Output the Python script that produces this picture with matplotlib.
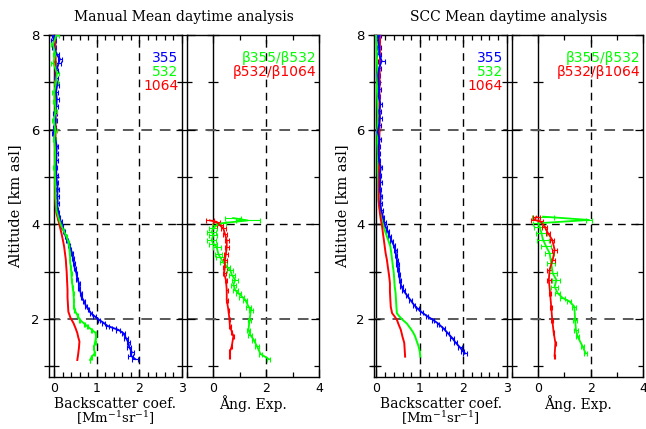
import matplotlib
matplotlib.use("Agg")
import matplotlib.pyplot as plt
from matplotlib.ticker import MultipleLocator, NullFormatter

# ---------------- Manual analysis: backscatter coefficient [Mm-1 sr-1] ----------------
alt_b355_man = [1.15, 1.22, 1.30, 1.40, 1.50, 1.60, 1.70, 1.77, 1.80, 1.85, 1.92, 1.98, 2.05, 2.12,
                2.20, 2.28, 2.37, 2.46, 2.55, 2.65, 2.75, 2.85, 2.96, 3.07, 3.18, 3.28, 3.39, 3.48,
                3.56, 3.66, 3.76, 3.86, 3.96, 4.06, 4.15, 4.25, 4.32, 4.45, 4.60, 4.75, 4.90, 5.05,
                5.20, 5.35, 5.50, 5.65, 5.80, 5.92, 6.05, 6.20, 6.35, 6.50, 6.65, 6.80, 6.95, 7.10,
                7.25, 7.40, 7.50, 7.60, 7.75, 7.90, 8.00]
b355_man = [1.90, 1.80, 1.82, 1.76, 1.74, 1.68, 1.62, 1.50, 1.40, 1.25, 1.15, 1.05, 0.95, 0.86,
            0.80, 0.74, 0.70, 0.64, 0.62, 0.58, 0.58, 0.54, 0.52, 0.48, 0.46, 0.44, 0.42, 0.38,
            0.35, 0.30, 0.26, 0.22, 0.18, 0.15, 0.12, 0.09, 0.07, 0.08, 0.07, 0.08, 0.06, 0.05,
            0.04, 0.05, 0.05, 0.06, 0.02, -0.02, 0.01, 0.03, 0.02, 0.05, 0.06, 0.04, 0.07, 0.04,
            0.05, 0.10, 0.13, 0.05, -0.01, -0.02, 0.00]
e355_man = [0.07, 0.06, 0.05, 0.05, 0.04, 0.04, 0.04, 0.05, 0.04, 0.04, 0.03, 0.03, 0.03, 0.03,
            0.02, 0.02, 0.02, 0.02, 0.02, 0.02, 0.02, 0.02, 0.02, 0.02, 0.02, 0.02, 0.02, 0.02,
            0.02, 0.02, 0.02, 0.02, 0.02, 0.02, 0.02, 0.02, 0.02, 0.03, 0.03, 0.03, 0.03, 0.03,
            0.03, 0.03, 0.03, 0.03, 0.03, 0.03, 0.03, 0.04, 0.04, 0.04, 0.04, 0.04, 0.04, 0.04,
            0.04, 0.05, 0.05, 0.05, 0.05, 0.05, 0.05]

alt_b532_man = [1.13, 1.20, 1.27, 1.40, 1.52, 1.63, 1.70, 1.77, 1.84, 1.90, 1.98, 2.08, 2.18, 2.28,
                2.40, 2.54, 2.68, 2.82, 2.96, 3.10, 3.20, 3.30, 3.42, 3.52, 3.62, 3.75, 3.88, 4.00,
                4.16, 4.30, 4.45, 4.60, 4.90, 5.20, 5.50, 5.80, 6.00, 6.20, 6.40, 6.60, 6.80, 7.00,
                7.20, 7.40, 7.60, 7.80, 8.00]
b532_man = [0.84, 0.88, 0.95, 0.93, 0.96, 0.98, 0.97, 0.88, 0.78, 0.70, 0.60, 0.54, 0.48, 0.46,
            0.46, 0.45, 0.43, 0.41, 0.40, 0.39, 0.37, 0.37, 0.36, 0.35, 0.33, 0.28, 0.21, 0.15,
            0.09, 0.05, 0.04, 0.03, 0.02, 0.01, 0.02, 0.00, 0.02, -0.01, 0.03, 0.01, 0.00, 0.04,
            0.06, -0.02, 0.02, -0.03, 0.05]
e532_man = [0.01, 0.01, 0.01, 0.01, 0.01, 0.01, 0.01, 0.01, 0.01, 0.01, 0.01, 0.01, 0.01, 0.01,
            0.01, 0.01, 0.01, 0.01, 0.01, 0.01, 0.01, 0.01, 0.01, 0.01, 0.01, 0.01, 0.01, 0.01,
            0.02, 0.02, 0.02, 0.03, 0.03, 0.03, 0.03, 0.04, 0.04, 0.04, 0.04, 0.04, 0.05, 0.05,
            0.05, 0.05, 0.05, 0.05, 0.05]

alt_b1064_man = [1.13, 1.25, 1.40, 1.52, 1.62, 1.70, 1.80, 1.91, 2.02, 2.15, 2.30, 2.45, 2.61, 2.80,
                 3.00, 3.11, 3.25, 3.39, 3.53, 3.67, 3.80, 3.95, 4.10, 4.23, 4.40, 4.51, 4.80, 5.20,
                 5.60, 6.00, 6.50, 7.00, 7.50, 8.00]
b1064_man = [0.54, 0.56, 0.58, 0.59, 0.56, 0.54, 0.50, 0.45, 0.38, 0.33, 0.32, 0.31, 0.31, 0.30,
             0.29, 0.28, 0.27, 0.25, 0.23, 0.20, 0.17, 0.13, 0.09, 0.05, 0.03, 0.02, 0.02, 0.02,
             0.02, 0.03, 0.03, 0.03, 0.03, 0.02]

# ---------------- Manual analysis: backscatter-related Angstrom exponents ----------------
alt_ae1_man = [1.15, 1.26, 1.42, 1.56, 1.66, 1.77, 1.98, 2.19, 2.26, 2.40, 2.47, 2.54, 2.61, 2.72,
               2.82, 2.93, 3.03, 3.10, 3.20, 3.31, 3.38, 3.52, 3.59, 3.66, 3.77, 3.84, 3.91, 3.98,
               4.02, 4.08, 4.13]
ae1_man = [2.09, 1.78, 1.65, 1.52, 1.40, 1.33, 1.37, 1.42, 1.33, 1.21, 1.08, 0.95, 0.83, 0.76,
           0.83, 0.70, 0.64, 0.51, 0.38, 0.25, 0.19, 0.13, 0.00, -0.06, 0.00, -0.06, 0.00, 0.13,
           0.30, 1.30, 0.75]
eae1_man = [0.05, 0.06, 0.06, 0.07, 0.07, 0.07, 0.07, 0.08, 0.08, 0.08, 0.09, 0.09, 0.10, 0.10,
            0.12, 0.12, 0.12, 0.12, 0.13, 0.14, 0.14, 0.15, 0.15, 0.16, 0.16, 0.16, 0.16, 0.16,
            0.20, 0.45, 0.30]

alt_ae2_man = [1.21, 1.31, 1.42, 1.63, 1.73, 1.84, 2.00, 2.19, 2.40, 2.61, 2.82, 2.96, 3.10, 3.24,
               3.38, 3.52, 3.66, 3.80, 3.91, 3.98, 4.05, 4.08]
ae2_man = [0.63, 0.63, 0.70, 0.76, 0.70, 0.63, 0.61, 0.57, 0.51, 0.51, 0.48, 0.41, 0.44, 0.44,
           0.48, 0.51, 0.51, 0.44, 0.38, 0.25, 0.13, -0.13]
eae2_man = [0.02, 0.02, 0.02, 0.02, 0.02, 0.03, 0.03, 0.03, 0.03, 0.04, 0.05, 0.06, 0.07, 0.07,
            0.08, 0.08, 0.08, 0.08, 0.09, 0.10, 0.12, 0.15]

# ---------------- SCC analysis: backscatter coefficient [Mm-1 sr-1] ----------------
alt_b355_scc = [1.27, 1.33, 1.40, 1.50, 1.60, 1.70, 1.80, 1.90, 1.98, 2.06, 2.14, 2.22, 2.30, 2.40,
                2.50, 2.60, 2.70, 2.82, 2.95, 3.05, 3.15, 3.25, 3.35, 3.45, 3.55, 3.65, 3.75, 3.85,
                3.95, 4.05, 4.16, 4.30, 4.45, 4.60, 4.75, 4.90, 5.05, 5.20, 5.35, 5.50, 5.65, 5.80,
                5.95, 6.10, 6.25, 6.40, 6.55, 6.70, 6.85, 7.00, 7.15, 7.30, 7.45, 7.60, 7.75, 7.90,
                8.00]
b355_scc = [2.04, 1.98, 1.92, 1.82, 1.74, 1.64, 1.54, 1.42, 1.30, 1.16, 1.04, 0.94, 0.86, 0.78,
            0.70, 0.62, 0.57, 0.54, 0.52, 0.50, 0.49, 0.47, 0.45, 0.44, 0.40, 0.35, 0.30, 0.26,
            0.21, 0.18, 0.15, 0.11, 0.09, 0.10, 0.08, 0.09, 0.08, 0.10, 0.06, 0.05, 0.05, 0.07,
            0.03, 0.06, 0.08, 0.07, 0.09, 0.05, 0.06, 0.05, 0.04, 0.06, 0.12, 0.06, 0.06, 0.04,
            0.06]
e355_scc = [0.04, 0.04, 0.04, 0.04, 0.04, 0.04, 0.04, 0.03, 0.03, 0.03, 0.03, 0.03, 0.03, 0.03,
            0.03, 0.03, 0.03, 0.03, 0.03, 0.03, 0.03, 0.03, 0.03, 0.03, 0.03, 0.03, 0.03, 0.03,
            0.03, 0.03, 0.03, 0.03, 0.03, 0.03, 0.03, 0.03, 0.03, 0.03, 0.03, 0.03, 0.03, 0.03,
            0.03, 0.04, 0.04, 0.04, 0.04, 0.04, 0.04, 0.04, 0.04, 0.04, 0.08, 0.05, 0.05, 0.05,
            0.05]

alt_b532_scc = [1.20, 1.30, 1.42, 1.52, 1.63, 1.72, 1.80, 1.90, 1.98, 2.06, 2.12, 2.25, 2.40, 2.55,
                2.68, 2.82, 2.96, 3.10, 3.25, 3.40, 3.53, 3.64, 3.74, 3.85, 3.95, 4.08, 4.23, 4.40,
                4.51, 4.80, 5.10, 5.40, 5.70, 6.00, 6.30, 6.60, 6.90, 7.20, 7.50, 7.80, 8.00]
b532_scc = [1.01, 1.00, 0.97, 0.93, 0.89, 0.84, 0.78, 0.70, 0.60, 0.52, 0.47, 0.46, 0.45, 0.44,
            0.42, 0.41, 0.40, 0.38, 0.36, 0.34, 0.32, 0.28, 0.24, 0.20, 0.17, 0.13, 0.09, 0.06,
            0.05, 0.04, 0.03, 0.03, 0.02, 0.02, 0.03, 0.02, 0.01, 0.02, 0.01, 0.00, -0.01]

alt_b1064_scc = [1.20, 1.35, 1.49, 1.62, 1.77, 1.88, 1.98, 2.06, 2.12, 2.25, 2.40, 2.58, 2.75, 2.92,
                 3.11, 3.25, 3.39, 3.53, 3.67, 3.80, 3.95, 4.10, 4.23, 4.40, 4.51, 4.80, 5.20, 5.60,
                 6.00, 6.50, 7.00, 7.50, 8.00]
b1064_scc = [0.66, 0.65, 0.64, 0.60, 0.56, 0.51, 0.47, 0.41, 0.36, 0.33, 0.32, 0.31, 0.31, 0.29,
             0.26, 0.24, 0.21, 0.19, 0.17, 0.15, 0.13, 0.10, 0.08, 0.06, 0.05, 0.05, 0.06, 0.06,
             0.07, 0.07, 0.07, 0.08, 0.08]

# ---------------- SCC analysis: backscatter-related Angstrom exponents ----------------
alt_ae1_scc = [1.27, 1.42, 1.63, 1.77, 1.98, 2.26, 2.37, 2.44, 2.54, 2.68, 2.82, 2.96, 3.18, 3.39,
               3.53, 3.67, 3.81, 3.95, 4.02, 4.09, 4.16]
ae1_scc = [1.81, 1.69, 1.50, 1.44, 1.41, 1.38, 1.19, 0.94, 0.75, 0.63, 0.70, 0.56, 0.50, 0.44,
           0.31, 0.19, 0.13, 0.06, 0.00, 1.94, 0.19]
eae1_scc = [0.05, 0.06, 0.06, 0.07, 0.07, 0.08, 0.08, 0.09, 0.10, 0.12, 0.15, 0.15, 0.16, 0.18,
            0.20, 0.22, 0.22, 0.22, 0.20, 0.10, 0.40]

alt_ae2_scc = [1.22, 1.49, 1.73, 1.98, 2.26, 2.54, 2.82, 3.04, 3.25, 3.46, 3.67, 3.81, 3.95, 4.06,
               4.09, 4.16]
ae2_scc = [0.63, 0.66, 0.59, 0.54, 0.50, 0.46, 0.41, 0.44, 0.56, 0.63, 0.54, 0.38, 0.25, 0.09,
           -0.13, -0.06]
eae2_scc = [0.02, 0.03, 0.03, 0.03, 0.04, 0.05, 0.07, 0.08, 0.08, 0.08, 0.08, 0.08, 0.08, 0.10,
            0.12, 0.12]

# ---------------- labels and styling ----------------
titles = ["Manual Mean daytime analysis", "SCC Mean daytime analysis"]
bsc_labels = ["355", "532", "1064"]
ae_labels = ["β355/β532", "β532/β1064"]
BLUE, GREEN, RED = "#0000ff", "#00ff00", "#ff0000"

plt.rcParams["mathtext.fontset"] = "dejavuserif"
SERIF = "DejaVu Serif"
SANS = "DejaVu Sans"

fig = plt.figure(figsize=(6.46, 4.29), dpi=100)
W, H = 646.0, 429.0


def px_axes(x0, x1, y0=35.0, y1=377.0):
    return fig.add_axes([x0 / W, 1 - y1 / H, (x1 - x0) / W, (y1 - y0) / H])


def style_axes(ax, xlim, xmajor, xminor, vgrid, left_labels):
    ax.set_xlim(*xlim)
    ax.set_ylim(0.77, 8.0)
    ax.xaxis.set_major_locator(MultipleLocator(xmajor))
    ax.xaxis.set_minor_locator(MultipleLocator(xminor))
    ax.yaxis.set_major_locator(MultipleLocator(2))
    ax.yaxis.set_minor_locator(MultipleLocator(1))
    ax.tick_params(axis="both", which="both", direction="in", top=True, right=True,
                   width=0.9, color="black")
    ax.tick_params(which="major", length=6)
    ax.tick_params(which="minor", length=3.5)
    ax.tick_params(axis="x", labelsize=9, pad=3.5)
    for lab in ax.get_xticklabels():
        lab.set_fontfamily(SANS)
    if left_labels:
        ax.tick_params(axis="y", which="both", left=True, direction="inout",
                       labelsize=9.5, pad=3)
        ax.tick_params(axis="y", which="major", length=8)
        ax.tick_params(axis="y", which="minor", length=7)
        for lab in ax.get_yticklabels():
            lab.set_fontfamily(SANS)
    else:
        ax.tick_params(axis="y", which="both", labelleft=False)
    for sp in ax.spines.values():
        sp.set_linewidth(1.0)
    # dashed reference lines
    for xv in vgrid:
        ax.axvline(xv, color="black", lw=1.0, ls=(0, (5.5, 4)), zorder=1)
    for yv, col, lw in [(2, "0.35", 1.4), (4, "black", 1.0), (6, "0.35", 1.4)]:
        ax.axhline(yv, color=col, lw=lw, ls=(0, (5.5, 4)), zorder=1)
    # solid zero line carrying its own altitude ticks
    frac = (0 - xlim[0]) / (xlim[1] - xlim[0])
    sec = ax.secondary_yaxis(frac)
    sec.spines["left"].set_linewidth(1.0)
    sec.yaxis.set_major_locator(MultipleLocator(2))
    sec.yaxis.set_minor_locator(MultipleLocator(1))
    sec.yaxis.set_major_formatter(NullFormatter())
    sec.tick_params(which="both", direction="inout", width=0.9)
    sec.tick_params(which="major", length=8)
    sec.tick_params(which="minor", length=7)


def err_line(ax, x, y, xerr, color):
    ax.errorbar(x, y, xerr=xerr, color=color, lw=1.3, elinewidth=0.8, capsize=1.8,
                capthick=0.8, zorder=3)


def bsc_panel(ax, series, xlim):
    style_axes(ax, xlim, 1, 0.2, [1, 2], True)
    for (a, v, e), c in zip(series, [BLUE, GREEN, RED]):
        if e is None:
            ax.plot(v, a, color=c, lw=1.4, zorder=3)
        else:
            err_line(ax, v, a, e, c)
    for i, (lab, c) in enumerate(zip(bsc_labels, [BLUE, GREEN, RED])):
        ax.text(0.972, 0.933 - 0.041 * i, lab, color=c, transform=ax.transAxes,
                ha="right", va="center", fontsize=10, family=SANS)
    ax.text(0.5, -0.079, "Backscatter coef.", transform=ax.transAxes, ha="center",
            va="center", fontsize=10, family=SERIF)
    ax.text(0.5, -0.121, r"[Mm$^{-1}$sr$^{-1}$]", transform=ax.transAxes, ha="center",
            va="center", fontsize=9.5, family=SERIF)


def ae_panel(ax, series):
    style_axes(ax, (-1, 4), 2, 1, [2], False)
    for (a, v, e), c in zip(series, [GREEN, RED]):
        err_line(ax, v, a, e, c)
    for i, (lab, c) in enumerate(zip(ae_labels, [GREEN, RED])):
        ax.text(0.975, 0.933 - 0.041 * i, lab, color=c, transform=ax.transAxes,
                ha="right", va="center", fontsize=10, family=SANS)
    ax.text(0.5, -0.079, "Ång. Exp.", transform=ax.transAxes, ha="center",
            va="center", fontsize=10, family=SERIF)


ax1 = px_axes(49, 182)
ax2 = px_axes(186.7, 319.3)
ax3 = px_axes(374.3, 506.7)
ax4 = px_axes(511.7, 643.3)

bsc_panel(ax1, [(alt_b355_man, b355_man, e355_man),
                (alt_b532_man, b532_man, e532_man),
                (alt_b1064_man, b1064_man, None)], (-0.125, 3))
ae_panel(ax2, [(alt_ae1_man, ae1_man, eae1_man),
               (alt_ae2_man, ae2_man, eae2_man)])
bsc_panel(ax3, [(alt_b355_scc, b355_scc, e355_scc),
                (alt_b532_scc, b532_scc, None),
                (alt_b1064_scc, b1064_scc, None)], (-0.05, 3))
ae_panel(ax4, [(alt_ae1_scc, ae1_scc, eae1_scc),
               (alt_ae2_scc, ae2_scc, eae2_scc)])

fig.text(184 / W, 1 - 17 / H, titles[0], ha="center", va="center", fontsize=10, family=SERIF)
fig.text(509 / W, 1 - 17 / H, titles[1], ha="center", va="center", fontsize=10, family=SERIF)
fig.text(15 / W, 1 - 206 / H, "Altitude [km asl]", rotation=90, ha="center", va="center",
         fontsize=10.5, family=SERIF)
fig.text(342 / W, 1 - 206 / H, "Altitude [km asl]", rotation=90, ha="center", va="center",
         fontsize=10.5, family=SERIF)

fig.savefig("out.png", dpi=100)
